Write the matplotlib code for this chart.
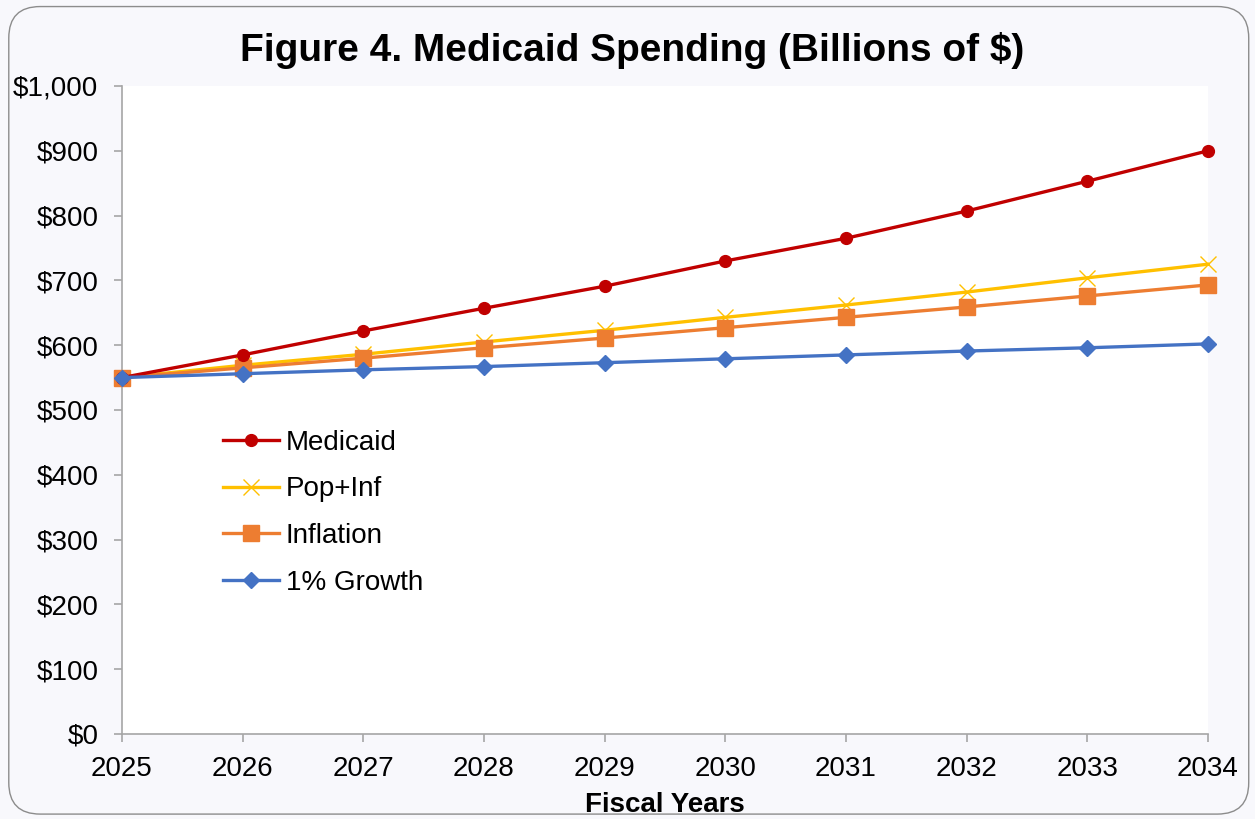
import matplotlib
matplotlib.use("Agg")
import matplotlib.pyplot as plt
from matplotlib.patches import FancyBboxPatch
from matplotlib.ticker import FuncFormatter

plt.rcParams["font.family"] = ["Liberation Sans", "DejaVu Sans"]

years = [2025, 2026, 2027, 2028, 2029, 2030, 2031, 2032, 2033, 2034]
medicaid = [550, 585, 622, 657, 691, 730, 765, 807, 853, 900]
pop_inf = [550, 569, 586, 605, 623, 643, 662, 682, 704, 725]
inflation = [550, 565, 580, 596, 611, 627, 643, 659, 676, 693]
growth_1pct = [550, 556, 562, 567, 573, 579, 585, 591, 596, 602]

bg = "#F8F8FC"
fig = plt.figure(figsize=(12.55, 8.19), dpi=100)
fig.patch.set_facecolor(bg)

# rounded outer frame, kept behind the axes
frame = FancyBboxPatch((0.007, 0.006), 0.988, 0.986, boxstyle="round,pad=0,rounding_size=0.025",
                       transform=fig.transFigure, facecolor=bg, edgecolor="#8C8C8C", linewidth=1.0,
                       mutation_aspect=1255 / 819, zorder=-10)
fig.patches.append(frame)

ax = fig.add_axes([0.0972, 0.1038, 0.8653, 0.7912])
ax.set_facecolor("white")

ax.plot(years, medicaid, color="#C00000", lw=2.4, marker="o", ms=8.5, label="Medicaid", clip_on=False, zorder=4)
ax.plot(years, pop_inf, color="#FFC000", lw=2.4, marker="x", ms=12, mew=1.0, label="Pop+Inf", clip_on=False, zorder=3)
ax.plot(years, inflation, color="#ED7D31", lw=2.4, marker="s", ms=11, label="Inflation", clip_on=False, zorder=3)
ax.plot(years, growth_1pct, color="#4472C4", lw=2.4, marker="D", ms=8.5, label="1% Growth", clip_on=False, zorder=5)

ax.set_xlim(2025, 2034)
ax.set_ylim(0, 1000)
ax.set_xticks(years)
ax.set_yticks(range(0, 1001, 100))
ax.yaxis.set_major_formatter(FuncFormatter(lambda v, p: f"${v:,.0f}"))

for side in ["top", "right"]:
    ax.spines[side].set_visible(False)
for side in ["left", "bottom"]:
    ax.spines[side].set_color("#A6A6A6")
    ax.spines[side].set_linewidth(1.2)
ax.tick_params(axis="both", direction="out", length=6, width=1.2, color="#A6A6A6",
               labelsize=20, labelcolor="black")
ax.tick_params(axis="y", pad=11)
ax.tick_params(axis="x", pad=10)

ax.set_xlabel("Fiscal Years", fontsize=20, fontweight="bold", labelpad=7)
fig.text(0.504, 0.938, "Figure 4. Medicaid Spending (Billions of $)", ha="center", va="center",
         fontsize=28, fontweight="bold")

ax.legend(loc="upper left", bbox_to_anchor=(0.083, 0.487), frameon=False, fontsize=20,
          handlelength=2.0, handletextpad=0.25, labelspacing=0.75, borderaxespad=0)

fig.savefig("out.png", dpi=100, facecolor=bg)
